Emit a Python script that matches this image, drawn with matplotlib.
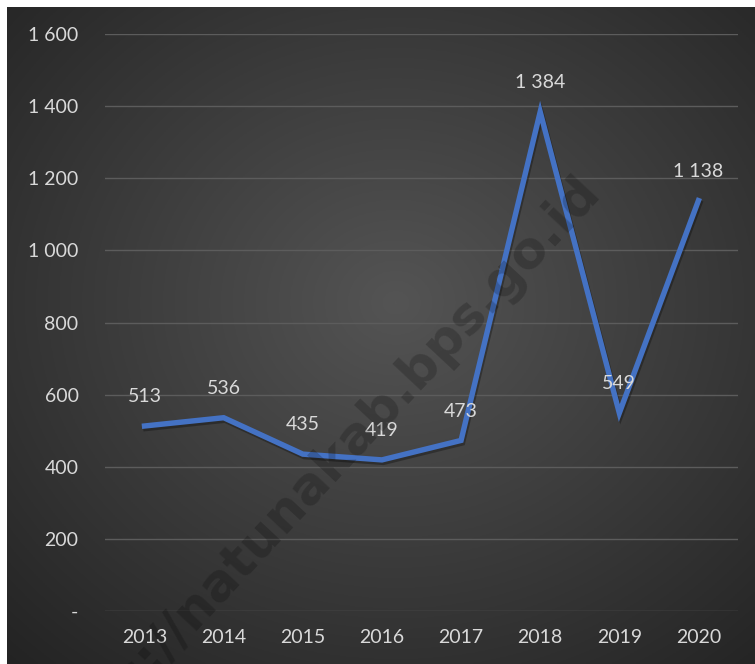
import numpy as np
import matplotlib
matplotlib.use('Agg')
import matplotlib.pyplot as plt
import matplotlib.patheffects as pe

years = ['2013', '2014', '2015', '2016', '2017', '2018', '2019', '2020']
values = [513, 536, 435, 419, 473, 1384, 549, 1138]
yticks = [0, 200, 400, 600, 800, 1000, 1200, 1400, 1600]

plt.rcParams['font.family'] = ['Lato', 'DejaVu Sans']

W, H = 755, 664
fig = plt.figure(figsize=(W / 100, H / 100), dpi=100, facecolor='white')

# radial gradient background (white margin at top and left)
bg = fig.add_axes([7 / W, 0, 1 - 7 / W, (H - 7) / H])
yy, xx = np.mgrid[0:1:300j, 0:1:340j]
r = np.sqrt(((xx - 0.52) / 0.75) ** 2 + ((yy - 0.45) / 0.75) ** 2)
shade = np.clip(0.33 - 0.19 * r, 0.14, 0.33)
bg.imshow(np.dstack([shade] * 3), extent=[0, 1, 0, 1], aspect='auto', origin='upper')
bg.set_axis_off()

ax = fig.add_axes([105 / W, 53 / H, (738 - 105) / W, (611 - 34) / H])
ax.patch.set_alpha(0)
x = np.arange(len(years))
ax.plot(x, values, color='#4472C4', lw=3.9, solid_joinstyle='miter', zorder=3,
        path_effects=[pe.SimpleLineShadow(offset=(1, -1.8), shadow_color='black', alpha=0.3),
                      pe.Normal()])

for xi, v in zip(x, values):
    ax.annotate(f'{v:,}'.replace(',', ' '), (xi, v), xytext=(0, 21), textcoords='offset points',
                ha='center', va='center', color='#d9d9d9', fontsize=14, zorder=4)

ax.set_xlim(-0.5, len(years) - 0.5)
ax.set_ylim(0, 1600)
ax.set_xticks(x)
ax.set_xticklabels(years)
ax.set_yticks(yticks)
ax.set_yticklabels(['-' if t == 0 else f'{t:,}'.replace(',', ' ') for t in yticks])
ax.tick_params(axis='both', length=0, colors='#d9d9d9', labelsize=14)
ax.tick_params(axis='y', pad=19)
ax.tick_params(axis='x', pad=13)
for s in ax.spines.values():
    s.set_visible(False)
ax.grid(axis='y', color='#5c5c5c', lw=1)
ax.set_axisbelow(True)

# watermark, runs off the bottom edge as in the source image
fig.text(592 / W, 1 - 183 / H, 'https://natunakab.bps.go.id', rotation=47,
         rotation_mode='anchor', ha='right', va='center', fontsize=37, fontweight='bold',
         color='black', alpha=0.2, family='DejaVu Sans', zorder=10)

fig.savefig('out.png', dpi=100, facecolor='white')
